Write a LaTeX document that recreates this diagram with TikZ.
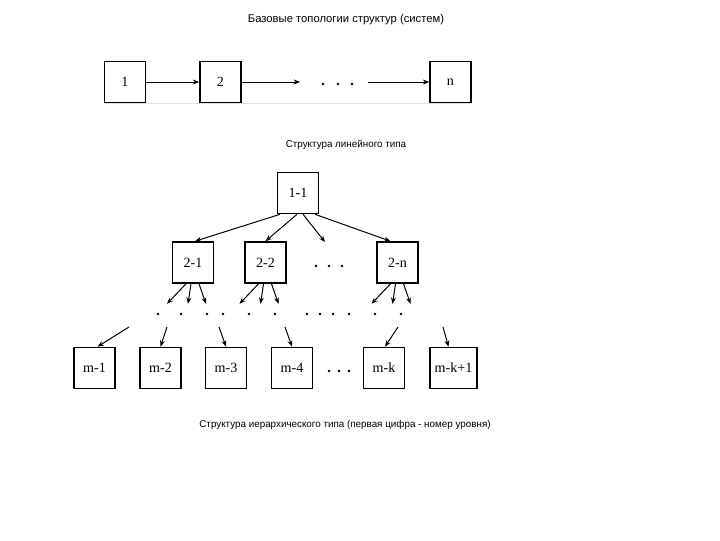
\documentclass[tikz,border=0pt]{standalone}
\usepackage{fontspec}
\setmainfont{Liberation Serif}
\setsansfont{Liberation Sans}
\usetikzlibrary{arrows.meta,calc}

\tikzset{
  blk/.style={draw, line width=1pt, minimum size=1.03cm, inner sep=0pt,
    font=\rmfamily\fontsize{10}{11}\selectfont},
  lnk/.style={-{Stealth[length=4.5pt,width=3.5pt]}, line width=0.7pt},
  capt/.style={font=\sffamily\fontsize{7}{8}\selectfont},
  dot/.style={fill=black}
}

\begin{document}
\begin{tikzpicture}[x=0.025cm, y=-0.025cm]

% Canvas: 720 x 540 px, y grows downwards
\useasboundingbox (0,0) rectangle (720,540);

% ── Title ────────────────────────────────────────────────────────────────────
\node[capt, font=\sffamily\fontsize{8}{9}\selectfont] (title) at (346,20)
  {Базовые топологии структур (систем)};

% ── Linear structure ────────────────────────────────────────────────────────
\node[blk] (b1) at (125,82) {1};
\node[blk] (b2) at (220.5,82) {2};
\node[blk] (bn) at (450.5,82) {n};
\coordinate (r1) at (300,82);
\coordinate (r2) at (368,82);

\draw[black!12] (b1.south west) -- (bn.south east);
\draw[lnk] (b1.east) -- (b2.west);
\draw[lnk] (b2.east) -- (r1);
\draw[lnk] (r2) -- (bn.west);
\foreach \x in {323,338,352}
  \fill[dot] (\x,84) circle (1.4);

\node[capt] (cap1) at (346,145) {Структура линейного типа};

% ── Hierarchical structure ─────────────────────────────────────────────────
\node[blk] (h11) at (298,193) {1-1};
\node[blk] (h21) at (193,262.5) {2-1};
\node[blk] (h22) at (265.5,262.5) {2-2};
\node[blk] (h2n) at (397.5,262.5) {2-n};
\coordinate (h2x) at (325,242);
\foreach \x in {316,329,342}
  \fill[dot] (\x,266) circle (1.4);

\draw[lnk] ($(h11.south)+(-18,0)$) -- ($(h21.north)+(2,0)$);
\draw[lnk] ($(h11.south)+(-1,0)$) -- (h22.north);
\draw[lnk] ($(h11.south)+(5,0)$) -- (h2x);
\draw[lnk] ($(h11.south)+(17,0)$) -- ($(h2n.north)+(-7,0)$);

% level 2 -> next level (fans of three)
\foreach \p in {h21,h22,h2n}
  \foreach \a/\b in {-7/-26,-2/-5,6/13}
    \draw[lnk] ($(\p.south)+(\a,0)$) -- ($(\p.south)+(\b,20)$);

% intermediate levels
\foreach \x in {158,181,207,223,249,275,307,320,333,349,375,401}
  \fill[dot] (\x,314) circle (1.4);

% level m
\node[blk] (m1) at (94.5,368) {m-1};
\node[blk] (m2) at (160.5,368) {m-2};
\node[blk] (m3) at (226,368) {m-3};
\node[blk] (m4) at (292,368) {m-4};
\node[blk] (mk) at (384,368) {m-k};
\node[blk, minimum width=1.18cm] (mk1) at (453.5,368) {m-k+1};
\foreach \x in {329,339,349}
  \fill[dot] (\x,371) circle (1.4);

\foreach \x/\n/\d in {129/m1/3,167/m2/0,219/m3/0,285/m4/0,398/mk/1,443/mk1/-5}
  \draw[lnk] (\x,327) -- ($(\n.north)+(\d,0)$);

\node[capt] (cap2) at (345,425)
  {Структура иерархического типа (первая цифра - номер уровня)};

\end{tikzpicture}
\end{document}
